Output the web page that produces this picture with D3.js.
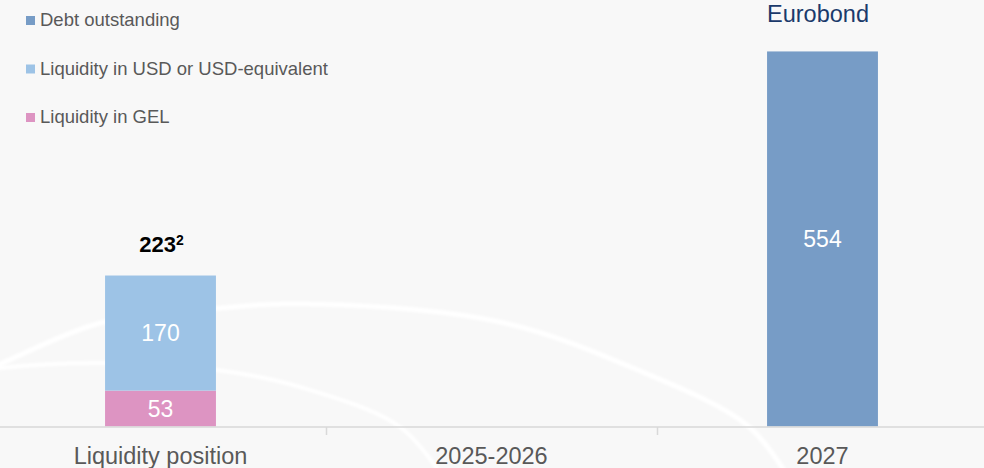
<!DOCTYPE html>
<html>
<head>
<meta charset="utf-8">
<script src="https://cdn.jsdelivr.net/npm/d3@7"></script>
<style>
  html, body { margin: 0; padding: 0; background: #f8f8f8; }
  svg { display: block; font-family: "Liberation Sans", Arial, sans-serif; }
</style>
</head>
<body>
<svg id="chart" width="984" height="468"></svg>
<script>
// ---- data ----
const categories = ["Liquidity position", "2025-2026", "2027"];
const debtOutstanding = [0, 0, 554];
const liquidityUSD = [170, 0, 0];
const liquidityGEL = [53, 0, 0];
const totalLiquidityLabel = ["223", "", ""];
const totalLiquiditySup = ["2", "", ""];
const debtAnnotation = ["", "", "Eurobond"];
const legendLabels = ["Debt outstanding", "Liquidity in USD or USD-equivalent", "Liquidity in GEL"];
const colors = { debt: "#779cc6", usd: "#9dc3e6", gel: "#dd94c2" };

const W = 984, H = 468;
const svg = d3.select("#chart");

// background
svg.append("rect").attr("width", W).attr("height", H).attr("fill", "#f8f8f8");

// decorative white swooshes
const defs = svg.append("defs");
defs.append("filter").attr("id", "soft").append("feGaussianBlur").attr("stdDeviation", 0.9);
const line = d3.line().curve(d3.curveCatmullRom.alpha(0.5));
const deco = svg.append("g").attr("fill", "none").attr("stroke", "#ffffff")
  .attr("stroke-linecap", "round").attr("filter", "url(#soft)");
deco.append("path")
  .attr("d", line([[-20, 372], [0, 364], [100, 323], [210, 309], [310, 304], [500, 322], [633, 368], [748, 426], [790, 480]]))
  .attr("stroke-width", 5);
deco.append("path")
  .attr("d", line([[-20, 371], [0, 368], [100, 363], [217, 370], [300, 387], [400, 427], [445, 480]]))
  .attr("stroke-width", 4);

// scales
const x = d3.scaleBand().domain(categories).range([-5, 988]).padding(0);
const barW = x.bandwidth() * 0.335;
const y = d3.scaleLinear().domain([0, 600]).range([426.5, 20.3]);
const cx = d => x(d) + x.bandwidth() / 2;

// stacked bars
const rows = categories.map((c, i) => ({ c, gel: liquidityGEL[i], usd: liquidityUSD[i], debt: debtOutstanding[i] }));
const stack = d3.stack().keys(["gel", "usd", "debt"])(rows);
const g = svg.append("g");
stack.forEach(layer => {
  g.selectAll(null).data(layer.filter(d => d[1] > d[0])).enter().append("rect")
    .attr("x", d => cx(d.data.c) - barW / 2)
    .attr("width", barW)
    .attr("y", d => y(d[1]))
    .attr("height", d => y(d[0]) - y(d[1]))
    .attr("fill", colors[layer.key]);
  g.selectAll(null).data(layer.filter(d => d[1] > d[0])).enter().append("text")
    .attr("x", d => cx(d.data.c))
    .attr("y", d => (y(d[0]) + y(d[1])) / 2 + 8)
    .attr("text-anchor", "middle")
    .attr("fill", "#ffffff")
    .attr("font-size", 23)
    .text(d => d[1] - d[0]);
});

// axis
const axis = svg.append("g").attr("transform", "translate(0,426.5)")
  .call(d3.axisBottom(x).tickSize(0).tickPadding(0));
axis.select(".domain").remove();
axis.selectAll("text").remove();
svg.append("line").attr("x1", 0).attr("x2", W).attr("y1", 427).attr("y2", 427)
  .attr("stroke", "#d9d9d9").attr("stroke-width", 1.5);
svg.selectAll(".sep").data(categories.slice(1)).enter().append("line")
  .attr("x1", d => Math.round(x(d)) + 0.5).attr("x2", d => Math.round(x(d)) + 0.5)
  .attr("y1", 427).attr("y2", 435).attr("stroke", "#d9d9d9").attr("stroke-width", 1.5);
svg.selectAll(".cat").data(categories).enter().append("text")
  .attr("x", d => cx(d)).attr("y", 463.5)
  .attr("text-anchor", "middle").attr("fill", "#595959").attr("font-size", 23.5)
  .text(d => d);

// total liquidity label
categories.forEach((c, i) => {
  if (!totalLiquidityLabel[i]) return;
  const total = liquidityUSD[i] + liquidityGEL[i];
  const t = svg.append("text")
    .attr("x", cx(c) + 1).attr("y", y(total) - 23.5)
    .attr("text-anchor", "middle").attr("font-weight", "bold").attr("font-size", 22).attr("fill", "#000");
  t.append("tspan").text(totalLiquidityLabel[i]);
  t.append("tspan").attr("font-size", 14).attr("dy", -7).text(totalLiquiditySup[i]);
});

// debt annotation
categories.forEach((c, i) => {
  if (!debtAnnotation[i]) return;
  svg.append("text")
    .attr("x", cx(c) - barW / 2).attr("y", 22)
    .attr("fill", "#1b3a6b").attr("font-size", 23.5)
    .text(debtAnnotation[i]);
});

// legend
const legendColors = [colors.debt, colors.usd, colors.gel];
const lg = svg.selectAll(".lg").data(legendLabels).enter().append("g")
  .attr("transform", (d, i) => `translate(26,${16 + i * 48.5})`);
lg.append("rect").attr("width", 9).attr("height", 9).attr("fill", (d, i) => legendColors[i]);
lg.append("text").attr("x", 14).attr("y", 10).attr("fill", "#595959").attr("font-size", 18.5).text(d => d);
</script>
</body>
</html>
